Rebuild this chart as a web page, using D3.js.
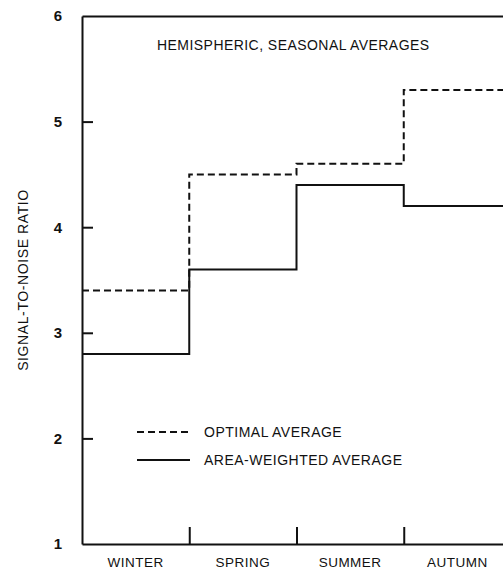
<!DOCTYPE html>
<html>
<head>
<meta charset="utf-8">
<script src="https://cdn.jsdelivr.net/npm/d3@7"></script>
<style>
  body { margin: 0; background: #fff; }
  text { font-family: "Liberation Sans", Arial, sans-serif; fill: #111; }
</style>
</head>
<body>
<div id="chart"></div>
<script>
// Seasons and the two series (signal-to-noise ratio)
const seasons = ["WINTER", "SPRING", "SUMMER", "AUTUMN"];
const optimalAvg = [3.4, 4.5, 4.6, 5.3];
const areaWeightedAvg = [2.8, 3.6, 4.4, 4.2];
const yTicks = [1, 2, 3, 4, 5, 6];
const seasonBounds = [1, 2, 3];

const width = 503;
const height = 570;

const svg = d3.select("#chart").append("svg")
    .attr("width", width)
    .attr("height", height);

// x runs one unit per season; the right edge of the box falls outside the picture
const x = d3.scaleLinear().domain([0, 4]).range([82, 511]);
const y = d3.scaleLinear().domain([1, 6]).range([544, 16]);
const band = d3.scaleBand().domain(seasons).range([82, 511]);

const ink = "#111";

// Left axis with inward ticks
const yAxis = svg.append("g")
    .attr("transform", `translate(${x(0)},0)`)
    .call(d3.axisLeft(y).tickValues(yTicks).tickFormat(d3.format("d"))
        .tickSize(-11).tickSizeOuter(0).tickPadding(20));
yAxis.select(".domain").attr("stroke", ink).attr("stroke-width", 2);
yAxis.selectAll(".tick line").attr("stroke", ink).attr("stroke-width", 2);
yAxis.selectAll(".tick text").attr("font-size", 15).attr("font-weight", "bold").attr("fill", ink);
// first and last ticks sit on the frame
yAxis.selectAll(".tick").filter(d => d === 1 || d === 6).select("line").remove();

// Bottom axis: season boundaries as inward ticks
const xAxis = svg.append("g")
    .attr("transform", `translate(0,${y(1)})`)
    .call(d3.axisBottom(x).tickValues(seasonBounds).tickFormat("")
        .tickSize(-17).tickSizeOuter(0));
xAxis.select(".domain").attr("stroke", ink).attr("stroke-width", 2);
xAxis.selectAll(".tick line").attr("stroke", ink).attr("stroke-width", 2);

// Season labels (sit right at the bottom edge)
const labelAxis = svg.append("g")
    .attr("transform", `translate(0,${y(1) + 13})`)
    .call(d3.axisBottom(band).tickSize(0).tickPadding(0));
labelAxis.select(".domain").remove();
labelAxis.selectAll(".tick text")
    .attr("font-size", 13.5)
    .attr("letter-spacing", 0.5)
    .attr("fill", ink);

// Top frame
const topAxis = svg.append("g")
    .attr("transform", `translate(0,${y(6)})`)
    .call(d3.axisTop(x).tickValues([]).tickSizeOuter(0));
topAxis.select(".domain").attr("stroke", ink).attr("stroke-width", 2);

// Step lines
const step = d3.line()
    .x(d => x(d[0]))
    .y(d => y(d[1]))
    .curve(d3.curveStepAfter);

function stepPoints(vals) {
    const pts = vals.map((v, i) => [i, v]);
    pts.push([vals.length, vals[vals.length - 1]]);
    return pts;
}

svg.append("path")
    .attr("d", step(stepPoints(optimalAvg)))
    .attr("fill", "none")
    .attr("stroke", ink)
    .attr("stroke-width", 2)
    .attr("stroke-dasharray", "7,4");

svg.append("path")
    .attr("d", step(stepPoints(areaWeightedAvg)))
    .attr("fill", "none")
    .attr("stroke", ink)
    .attr("stroke-width", 2);

// Title inside the frame
svg.append("text")
    .attr("x", 157)
    .attr("y", 50)
    .attr("font-size", 14)
    .attr("letter-spacing", 0.45)
    .text("HEMISPHERIC, SEASONAL AVERAGES");

// Y axis title
svg.append("text")
    .attr("transform", `translate(28,${(y(1) + y(6)) / 2}) rotate(-90)`)
    .attr("text-anchor", "middle")
    .attr("font-size", 14)
    .attr("letter-spacing", 0.6)
    .text("SIGNAL-TO-NOISE RATIO");

// Legend
const legend = [
    { label: "OPTIMAL AVERAGE", dash: "7,4", yPos: 432 },
    { label: "AREA-WEIGHTED AVERAGE", dash: null, yPos: 460 }
];
const lg = svg.append("g").selectAll("g").data(legend).enter().append("g");
lg.append("line")
    .attr("x1", 137).attr("x2", 190)
    .attr("y1", d => d.yPos).attr("y2", d => d.yPos)
    .attr("stroke", ink).attr("stroke-width", 2)
    .attr("stroke-dasharray", d => d.dash);
lg.append("text")
    .attr("x", 204)
    .attr("y", d => d.yPos + 5)
    .attr("font-size", 14)
    .attr("letter-spacing", 0.5)
    .text(d => d.label);
</script>
</body>
</html>
